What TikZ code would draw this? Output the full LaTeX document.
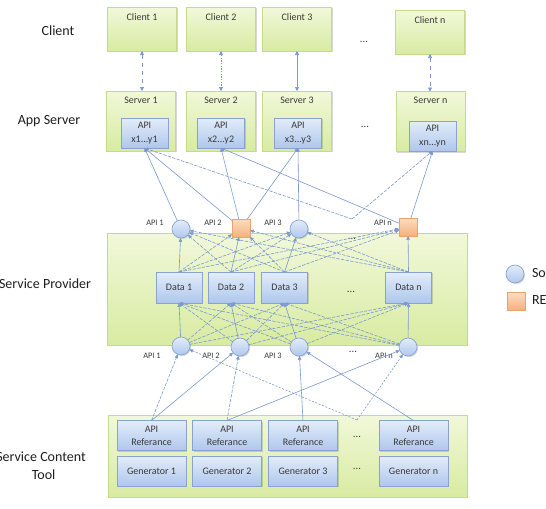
\documentclass[tikz,border=0pt]{standalone}
\usepackage{fontspec}
\setmainfont{Carlito}
\usetikzlibrary{arrows.meta,shadows}
\definecolor{lnk}{HTML}{7C99CE}
\definecolor{gtop}{HTML}{F1F8DA}
\definecolor{gbot}{HTML}{D8EBA2}
\definecolor{gdraw}{HTML}{C4DC8A}
\definecolor{btop}{HTML}{E3ECFA}
\definecolor{bbot}{HTML}{AFC7EC}
\definecolor{bdraw}{HTML}{88A3D2}
\definecolor{otop}{HTML}{FCDDC3}
\definecolor{obot}{HTML}{F6B07C}
\definecolor{odraw}{HTML}{E9A46E}
\definecolor{txt}{HTML}{3A3A3A}
\tikzset{
  every node/.style={inner sep=0pt, outer sep=0pt},
  softshadow/.style={drop shadow={shadow xshift=0.8pt, shadow yshift=-0.8pt, opacity=0.22, fill=black!70}},
  gbox/.style={draw=gdraw, line width=0.6pt, top color=gtop, bottom color=gbot, softshadow},
  bbox/.style={draw=bdraw, line width=0.5pt, top color=btop, bottom color=bbot, softshadow, text=txt, font=\fontsize{7.5}{10}\selectfont, align=center},
  clientbox/.style={gbox, minimum width=51.75pt, minimum height=33pt},
  serverbox/.style={gbox, minimum width=51.75pt, minimum height=45pt},
  apibox/.style={bbox, minimum width=35.25pt, minimum height=22.5pt, font=\fontsize{7.5}{11}\selectfont},
  databox/.style={bbox, minimum width=34.5pt, minimum height=23.25pt},
  toolbox/.style={bbox, minimum width=51.75pt, minimum height=22.5pt},
  apic/.style={circle, minimum size=13.5pt, draw=bdraw, line width=0.5pt, top color=btop, bottom color=bbot, softshadow},
  apisq/.style={rectangle, minimum size=13.5pt, draw=odraw, line width=0.5pt, top color=otop, bottom color=obot, softshadow},
  boxtxt/.style={text=txt, font=\fontsize{7.5}{9}\selectfont},
  small/.style={text=txt, font=\fontsize{6.3}{8}\selectfont},
  biglab/.style={text=black!88, font=\fontsize{10.5}{13.5}\selectfont, align=center},
  ellip/.style={text=txt, font=\fontsize{8}{9}\selectfont},
  lnk/.style={draw=lnk, line width=0.45pt, -{Triangle[width=2.6pt,length=2.8pt]}},
  dlnk/.style={lnk, dash pattern=on 2.5pt off 1pt},
  dbl/.style={draw=lnk, line width=0.5pt, {Triangle[width=3pt,length=3pt]}-{Triangle[width=3pt,length=3pt]}},
}
\begin{document}
\begin{tikzpicture}[x=0.75pt,y=-0.75pt]
\clip (0,0) rectangle (546,508);
\fill[white] (0,0) rectangle (546,508);

% row labels
\node[biglab] (lclient) at (58,31) {Client};
\node[biglab] (lapp) at (49,121) {App Server};
\node[biglab] (lprov) at (45,284) {Service Provider};
\node[biglab] (ltool) at (41,466) {Service Content\\\hspace*{4pt}Tool};

% big boxes
\node[gbox, minimum width=270pt, minimum height=84pt] (prov) at (287,289) {};
\node[gbox, minimum width=269.25pt, minimum height=61.5pt] (tool) at (287.5,456) {};

% clients
\node[clientbox, label={[boxtxt, anchor=north, yshift=-4.6pt]north:Client 1}] (c1) at (142,29) {};
\node[clientbox, label={[boxtxt, anchor=north, yshift=-4.6pt]north:Client 2}] (c2) at (221,29) {};
\node[clientbox, label={[boxtxt, anchor=north, yshift=-4.6pt]north:Client 3}] (c3) at (297,29) {};
\node[clientbox, label={[boxtxt, anchor=north, yshift=-4.6pt]north:Client n}] (cn) at (430,32) {};
\node[ellip] (cdots) at (364,42) {...};

% servers
\node[serverbox, label={[boxtxt, anchor=north, yshift=-4.2pt]north:Server 1}] (s1) at (141,121) {};
\node[serverbox, label={[boxtxt, anchor=north, yshift=-4.2pt]north:Server 2}] (s2) at (221,121) {};
\node[serverbox, label={[boxtxt, anchor=north, yshift=-4.2pt]north:Server 3}] (s3) at (297,121) {};
\node[serverbox, label={[boxtxt, anchor=north, yshift=-4.2pt]north:Server n}] (sn) at (430.5,121.5) {};
\node[ellip] (sdots) at (365,127) {...};
\node[apibox] (a1) at (144.5,133) {API\\x1...y1};
\node[apibox] (a2) at (221,133) {API\\x2...y2};
\node[apibox] (a3) at (298,133) {API\\x3...y3};
\node[apibox] (an) at (432.5,136) {API\\xn...yn};

% client-server arrows
\draw[dbl, dashed] (c1.south) -- (c1.south |- s1.north);
\draw[dbl, dash pattern=on 1pt off 1pt] (c2.south) -- (c2.south |- s2.north);
\draw[dbl] (c3.south) -- (c3.south |- s3.north);
\draw[dbl, dashed] (cn.south) -- (cn.south |- sn.north);

% data boxes
\node[databox] (D1) at (179,287.5) {Data 1};
\node[databox] (D2) at (231,287.5) {Data 2};
\node[databox] (D3) at (284.5,287.5) {Data 3};
\node[databox] (Dn) at (408.5,287.5) {Data n};
\node[ellip] (pdots2) at (351,292) {...};
\node[ellip] (pdots1) at (352,239) {...};

% top API nodes
\node[apic] (t1) at (181,229) {};
\node[apisq] (t2) at (241,228) {};
\node[apic] (t3) at (299,229) {};
\node[apisq] (tn) at (408,227) {};
\node[small] (t1l) at (155,223) {API 1};
\node[small] (t2l) at (213,223) {API 2};
\node[small] (t3l) at (273,223) {API 3};
\node[small] (tnl) at (383,223) {API n};
\coordinate (tv) at (352,219);

% bottom API nodes
\node[apic] (b1) at (181,346) {};
\node[apic] (b2) at (240,347) {};
\node[apic] (b3) at (299,347) {};
\node[apic] (bn) at (408,347) {};
\node[small] (b1l) at (152,356) {API 1};
\node[small] (b2l) at (211,356) {API 2};
\node[small] (b3l) at (273,356) {API 3};
\node[small] (bnl) at (384,356) {API n};
\node[ellip] (bdots) at (353,352) {...};
\coordinate (bv) at (357,420);

% tool boxes
\node[toolbox, font=\fontsize{7.5}{9.8}\selectfont] (r1) at (151.5,435.5) {API\\Referance};
\node[toolbox, font=\fontsize{7.5}{9.8}\selectfont] (r2) at (227,435.5) {API\\Referance};
\node[toolbox, font=\fontsize{7.5}{9.8}\selectfont] (r3) at (303,435.5) {API\\Referance};
\node[toolbox, font=\fontsize{7.5}{9.8}\selectfont] (rn) at (413.5,435.5) {API\\Referance};
\node[toolbox] (g1) at (151.5,471) {Generator 1};
\node[toolbox] (g2) at (227,471) {Generator 2};
\node[toolbox] (g3) at (303,471) {Generator 3};
\node[toolbox] (gn) at (413.5,471) {Generator n};
\node[ellip] (rdots) at (357,437) {...};
\node[ellip] (gdots) at (357,469) {...};

% legend
\node[apic] (lg1) at (515,274) {};
\node[biglab, anchor=west] (lg1t) at (532,274) {Soap};
\node[apisq] (lg2) at (516,301) {};
\node[biglab, anchor=west] (lg2t) at (532,300) {REST};

% app server <- top API links
\draw[lnk] (t1) -- (a1.south);
\draw[lnk] (t2) -- (a1.south);
\draw[dlnk] (tv) -- (a1.south);
\draw[lnk] (t2) -- (a2.south);
\draw[lnk] (tn) -- (a2.south);
\draw[lnk] (t2) -- (a3.south);
\draw[lnk] (t3) -- (a3.south);
\draw[lnk] (tn) -- (an.south);
\draw[dlnk] (tv) -- (an.south);

% provider mesh
\foreach \d [count=\i] in {D1,D2,D3,Dn}{
  \foreach \t [count=\j] in {t1,t2,t3,tn}{
    \ifnum\i=\j
      \draw[lnk] (\d.north) -- (\t);
    \else
      \draw[dlnk] (\d.north) -- (\t);
    \fi
  }
}
\foreach \b [count=\j] in {b1,b2,b3,bn}{
  \foreach \d [count=\i] in {D1,D2,D3,Dn}{
    \ifnum\i=\j
      \draw[lnk] (\b) -- (\d.south);
    \else
      \draw[dlnk] (\b) -- (\d.south);
    \fi
  }
}

% tool -> bottom API links
\draw[dlnk] (r1.north) -- (b1);
\draw[lnk] (r1.north) -- (b2);
\draw[dlnk] (r2.north) -- (b2);
\draw[lnk] (r2.north) -- (bn);
\draw[lnk] (r3.north) -- (b3);
\draw[lnk] (rn.north) -- (b3);
\draw[dlnk, dash pattern=on 1.5pt off 1.2pt] (bv) -- (b1);
\draw[dlnk, dash pattern=on 1.5pt off 1.2pt] (bv) -- (bn);
\end{tikzpicture}
\end{document}
